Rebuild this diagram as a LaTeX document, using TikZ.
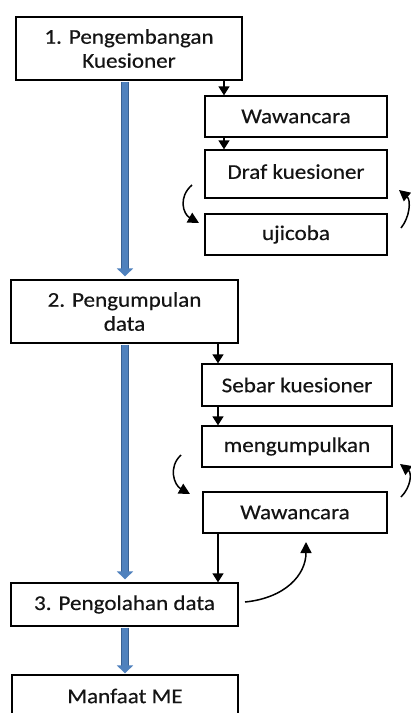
\documentclass[tikz,border=0pt]{standalone}
\usepackage{fontspec}
\setmainfont{Carlito}[FakeStretch=1.1,FakeBold=0.4]
\usetikzlibrary{arrows.meta}
\definecolor{blueshaft}{RGB}{79,129,189}
\definecolor{blueedge}{RGB}{56,96,146}
\definecolor{txt}{RGB}{20,20,20}
\begin{document}
\begin{tikzpicture}[x=1pt,y=-1pt,
  box/.style={draw=black,line width=1.3pt,rectangle,inner sep=0pt,align=center,
    font=\fontsize{21}{24}\selectfont,text=txt},
  bigarrow/.style={line width=6pt,draw=blueshaft,
    -{Triangle[width=16pt,length=8pt,fill=blueshaft]}},
  bigedge/.style={line width=7.5pt,draw=blueedge,shorten >=6pt},
  smallarrow/.style={line width=1.4pt,draw=black,-{Triangle[width=11pt,length=9pt]}},
  curvearrow/.style={line width=1.5pt,draw=black,-{Triangle[width=11pt,length=11pt]}}]
\useasboundingbox (0,0) rectangle (411,713);
\fill[white] (0,0) rectangle (411,713);
% main boxes
\node[box,minimum width=226pt,minimum height=63pt] (b1) at (129,48.5) {1. Pengembangan\\Kuesioner};
\node[box,minimum width=227pt,minimum height=63pt] (b2) at (124.5,311.5) {2. Pengumpulan\\data};
\node[box,minimum width=227pt,minimum height=43pt] (b3) at (124.5,604.5) {3. Pengolahan data};
\node[box,minimum width=226pt,minimum height=42pt] (b4) at (125,696) {Manfaat ME};
% sub boxes group 1
\node[box,minimum width=182pt,minimum height=41pt] (w1) at (296,116.5) {Wawancara};
\node[box,minimum width=182pt,minimum height=48pt] (d1) at (296,174) {\raisebox{5pt}{Draf kuesioner}};
\node[box,minimum width=182pt,minimum height=41pt] (u1) at (296,234.5) {ujicoba};
% sub boxes group 2
\node[box,minimum width=190pt,minimum height=42pt] (s2) at (297,385) {Sebar kuesioner};
\node[box,minimum width=190pt,minimum height=41pt] (m2) at (297,446.5) {mengumpulkan};
\node[box,minimum width=184pt,minimum height=41pt] (w2) at (295,512.5) {Wawancara};
% helper x positions
\coordinate (bx) at (125,0);
\coordinate (ax) at (224,0);
\coordinate (cx) at (218,0);
% blue arrows (dark edge underneath, lighter shaft on top)
\draw[bigedge] ([yshift=-1pt]b1.south -| bx) -- ([yshift=3pt]b2.north -| bx);
\draw[bigedge] ([yshift=-1pt]b2.south -| bx) -- ([yshift=3pt]b3.north -| bx);
\draw[bigedge] ([yshift=-1pt]b3.south -| bx) -- ([yshift=1pt]b4.north -| bx);
\draw[bigarrow] ([yshift=-1pt]b1.south -| bx) -- ([yshift=3pt]b2.north -| bx);
\draw[bigarrow] ([yshift=-1pt]b2.south -| bx) -- ([yshift=3pt]b3.north -| bx);
\draw[bigarrow] ([yshift=-1pt]b3.south -| bx) -- ([yshift=1pt]b4.north -| bx);
% small arrows
\draw[smallarrow] (b1.south -| ax) -- (w1.north -| ax);
\draw[smallarrow] (w1.south -| ax) -- (d1.north -| ax);
\draw[smallarrow] (b2.south -| cx) -- (s2.north -| cx);
\draw[smallarrow] (s2.south -| cx) -- (m2.north -| cx);
\draw[smallarrow] (w2.south -| cx) -- (b3.north -| cx);
% curved arrows
\coordinate (c1s) at (192,185);
\coordinate (c1e) at (199,223);
\coordinate (c2s) at (401,228);
\coordinate (c2e) at (399,190);
\coordinate (c3s) at (181,455);
\coordinate (c3e) at (190,494);
\coordinate (c4s) at (401,497);
\coordinate (c4e) at (400,464);
\coordinate (c5s) at (245,602);
\coordinate (c5e) at (306,542);
\draw[curvearrow] (c1s) .. controls (178,197) and (183,214) .. (c1e);
\draw[curvearrow] (c2s) .. controls (410,217) and (411,200) .. (c2e);
\draw[curvearrow] (c3s) .. controls (168,467) and (174,485) .. (c3e);
\draw[curvearrow] (c4s) .. controls (411,487) and (412,473) .. (c4e);
\draw[curvearrow] (c5s) .. controls (285,598) and (306,575) .. (c5e);
\end{tikzpicture}
\end{document}
